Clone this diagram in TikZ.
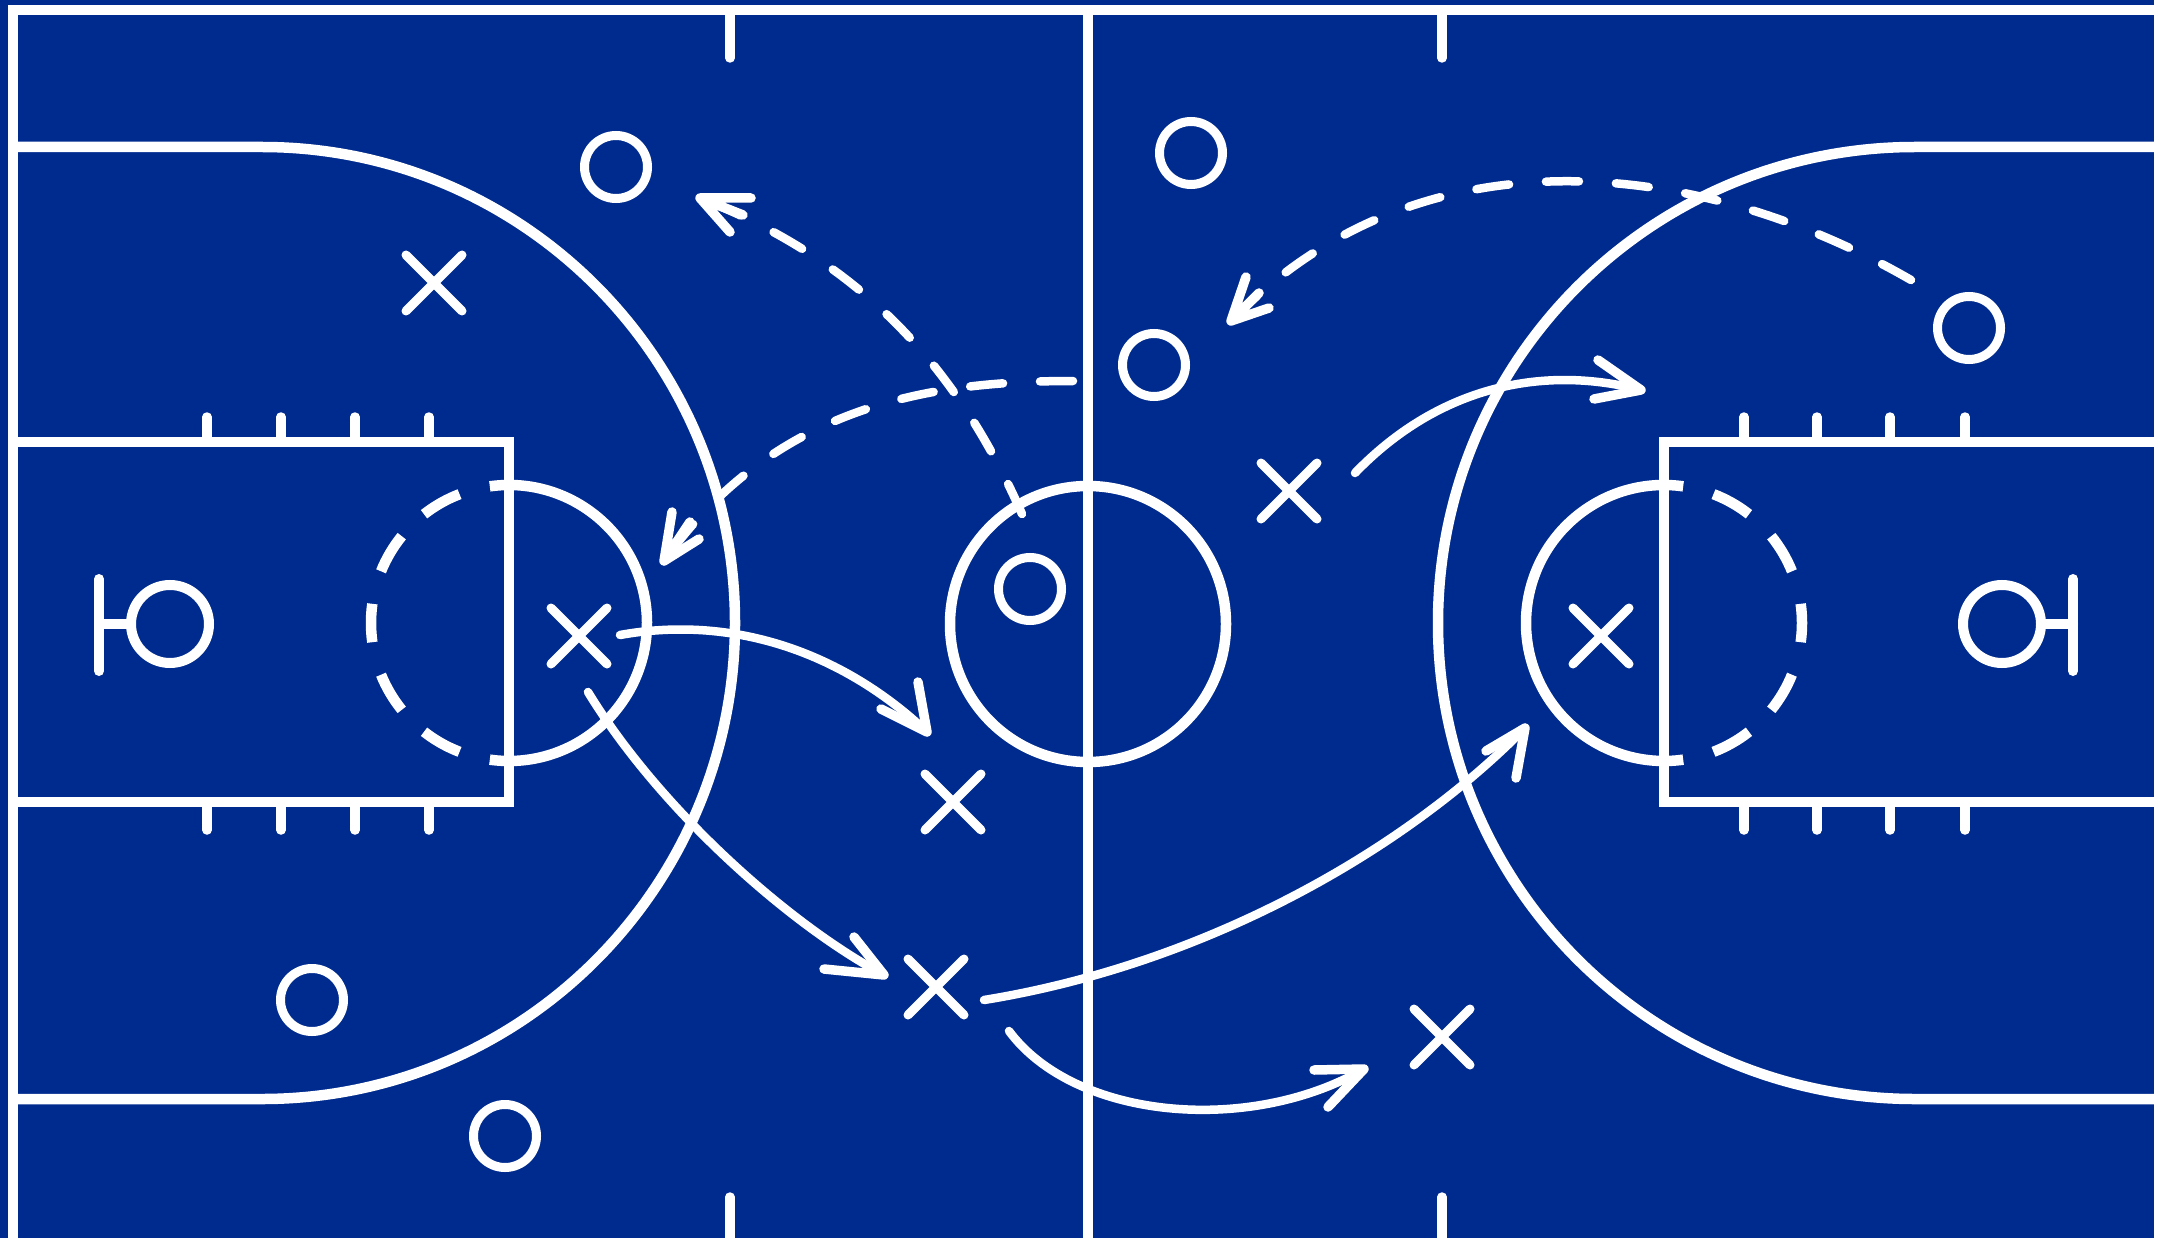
\documentclass[tikz,border=0pt]{standalone}
\usetikzlibrary{shapes.misc}
\definecolor{court}{RGB}{0,43,142}
\tikzset{
  x=1pt,y=-1pt,
  courtline/.style={draw=white,line width=10.5pt},
  tickline/.style={draw=white,line width=9.5pt,line cap=round},
  dashseg/.style={draw=white,line width=10.5pt},
  rim/.style={draw=white,line width=10pt,line cap=round},
  oplayer/.style={circle,draw=white,line width=9pt,minimum size=63pt,inner sep=0pt,outer sep=0pt},
  xplayer/.style={cross out,draw=white,line width=9pt,line cap=round,minimum size=56pt,inner sep=0pt,outer sep=0pt},
  shaft/.style={draw=white,line width=8.5pt,line cap=round},
  passshaft/.style={shaft,dash pattern=on 33pt off 37pt},
  barb/.style={draw=white,line width=9.5pt,line cap=round,line join=round},
}
\begin{document}
\begin{tikzpicture}
\useasboundingbox (0,0) rectangle (2162,1246);
\fill[white] (0,0) rectangle (2162,1246);
\fill[court] (0,0) rectangle (2154,1238);
% boundary
\draw[courtline] (13,1246) -- (13,10) -- (2154,10);
% centre line & circle
\draw[courtline] (1088,10) -- (1088,1238);
\draw[courtline] (1088,624) circle[radius=138pt];
% sideline ticks
\foreach \tx in {730,1442}{
  \draw[tickline] (\tx,10) -- (\tx,58);
  \draw[tickline] (\tx,1238) -- (\tx,1197);
}
% three point arcs
\draw[courtline] (18,147) -- (262,147) arc[start angle=90,end angle=-90,x radius=473pt,y radius=476pt] -- (18,1099);
\draw[courtline] (2154,147) -- (1915,147) arc[start angle=90,end angle=270,x radius=477pt,y radius=476pt] -- (2154,1099);
% keys
\draw[courtline,line join=miter] (18,442) -- (509,442) -- (509,802) -- (18,802);
\draw[courtline,line join=miter] (2154,442) -- (1664,442) -- (1664,802) -- (2154,802);
% lane ticks
\foreach \tx in {207,281,355,429,1744,1817,1890,1965}{
  \draw[tickline] (\tx,442) -- (\tx,417);
  \draw[tickline] (\tx,802) -- (\tx,830);
}
% free-throw circles
\draw[dashseg] ({509+138*cos(98)},{623-138*sin(98)}) arc[start angle=98,end angle=-98,radius=138pt];
\draw[dashseg] ({1664-138*cos(98)},{623-138*sin(98)}) arc[start angle=82,end angle=278,radius=138pt];
\foreach \a/\b in {111/128,141/158,172/188,202/219,232/249}{
  \draw[dashseg] ({509+138*cos(\a)},{623-138*sin(\a)}) arc[start angle=\a,end angle=\b,radius=138pt];
  \draw[dashseg] ({1664-138*cos(\a)},{623-138*sin(\a)}) arc[start angle=180-\a,end angle=180-\b,radius=138pt];
}
% rims
\draw[rim] (99,579) -- (99,671);
\draw[rim] (99,624) -- (128,624);
\node[oplayer,minimum size=78pt,line width=10pt] (rimL) at (170,624) {};
\draw[rim] (2073,579) -- (2073,671);
\draw[rim] (2073,624) -- (2044,624);
\node[oplayer,minimum size=78pt,line width=10pt] (rimR) at (2002,624) {};
% players O
\node[oplayer] (o1) at (616,167) {};
\node[oplayer] (o2) at (1191,153) {};
\node[oplayer] (o3) at (1154,365) {};
\node[oplayer] (o4) at (1969,328) {};
\node[oplayer] (o5) at (1030,589) {};
\node[oplayer] (o6) at (312,1000) {};
\node[oplayer] (o7) at (505,1136) {};
% players X
\node[xplayer] (x1) at (434,283) {};
\node[xplayer] (x2) at (579,636) {};
\node[xplayer] (x3) at (953,802) {};
\node[xplayer] (x4) at (936,987) {};
\node[xplayer] (x5) at (1442,1037) {};
\node[xplayer] (x6) at (1289,491) {};
\node[xplayer] (x7) at (1601,636) {};
% passes (dashed) with three-pronged heads
\coordinate (p1s) at (1022,514); \coordinate (p1e) at (700,198);
\coordinate (p1a) at (751,198); \coordinate (p1b) at (730,232); \coordinate (p1m) at (743,215);
\draw[passshaft] (p1s) .. controls (950,350) and (845,255) .. (p1e);
\draw[barb] (p1a) -- (p1e) -- (p1b) (p1e) -- (p1m);
\coordinate (p2s) at (1073,381); \coordinate (p2e) at (664,561);
\coordinate (p2a) at (672,512); \coordinate (p2b) at (699,539); \coordinate (p2m) at (690,522);
\draw[passshaft] (p2s) .. controls (930,381) and (775,405) .. (p2e);
\draw[barb] (p2a) -- (p2e) -- (p2b) (p2e) -- (p2m);
\coordinate (p3s) at (1911,280); \coordinate (p3e) at (1231,321);
\coordinate (p3a) at (1246,277); \coordinate (p3b) at (1269,308); \coordinate (p3m) at (1259,293);
\draw[passshaft] (p3s) .. controls (1700,158) and (1420,125) .. (p3e);
\draw[barb] (p3a) -- (p3e) -- (p3b) (p3e) -- (p3m);
% cuts (solid)
\coordinate (c1s) at (1355,473); \coordinate (c1e) at (1641,390);
\coordinate (c1a) at (1598,360); \coordinate (c1b) at (1594,399);
\draw[shaft] (c1s) .. controls (1440,385) and (1545,365) .. (c1e);
\draw[barb] (c1a) -- (c1e) -- (c1b);
\coordinate (c2s) at (620,635); \coordinate (c2e) at (927,732);
\coordinate (c2a) at (918,682); \coordinate (c2b) at (881,709);
\draw[shaft] (c2s) .. controls (730,615) and (840,650) .. (c2e);
\draw[barb] (c2a) -- (c2e) -- (c2b);
\coordinate (c3s) at (588,692); \coordinate (c3e) at (884,975);
\coordinate (c3a) at (854,937); \coordinate (c3b) at (824,969);
\draw[shaft] (c3s) .. controls (660,810) and (790,925) .. (c3e);
\draw[barb] (c3a) -- (c3e) -- (c3b);
\coordinate (c4s) at (984,1000); \coordinate (c4e) at (1525,728);
\coordinate (c4a) at (1486,751); \coordinate (c4b) at (1516,778);
\draw[shaft] (c4s) .. controls (1200,965) and (1400,855) .. (c4e);
\draw[barb] (c4a) -- (c4e) -- (c4b);
\coordinate (c5s) at (1009,1031); \coordinate (c5e) at (1364,1069);
\coordinate (c5a) at (1314,1070); \coordinate (c5b) at (1328,1107);
\draw[shaft] (c5s) .. controls (1075,1120) and (1250,1135) .. (c5e);
\draw[barb] (c5a) -- (c5e) -- (c5b);
\end{tikzpicture}
\end{document}
